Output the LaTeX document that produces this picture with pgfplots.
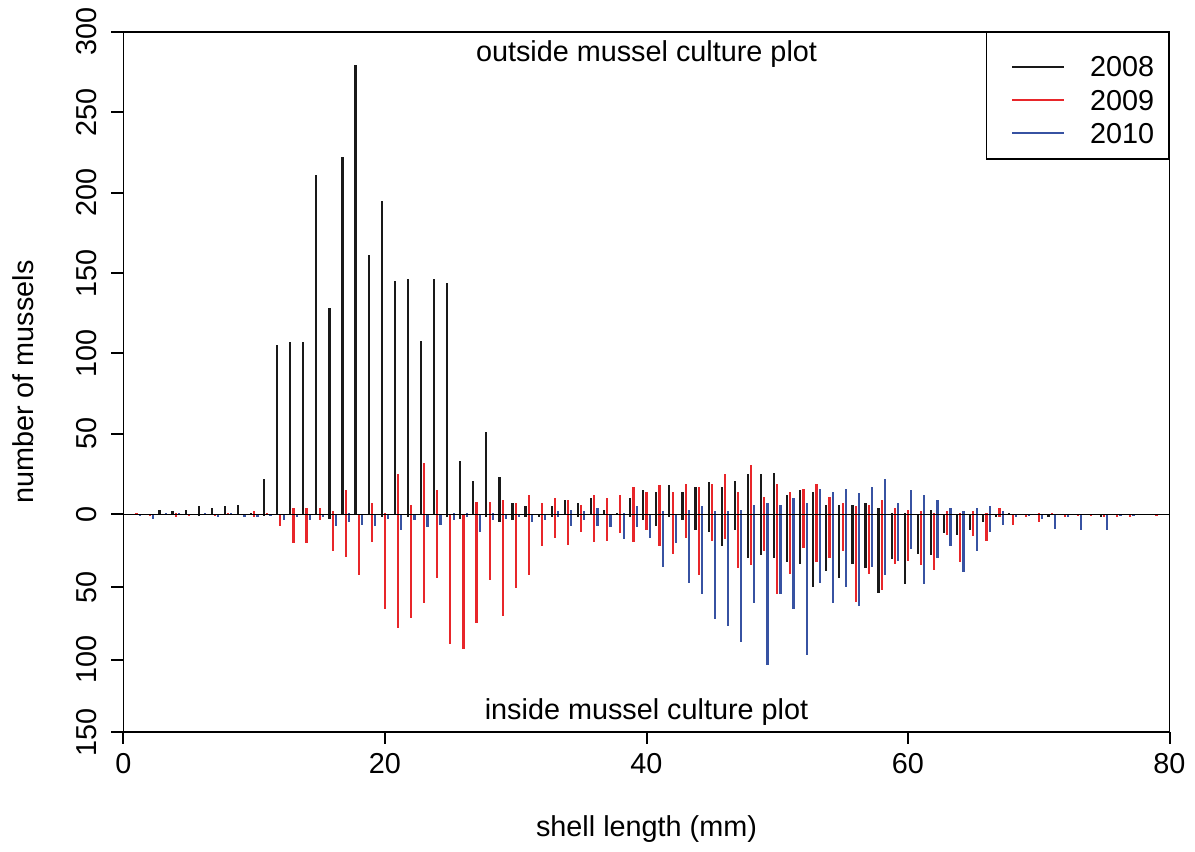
\documentclass[border=0pt]{standalone}
\usepackage{pgfplots}
\pgfplotsset{compat=1.18}
\usepackage{pgfplotstable}
\usepackage{fontspec}
\setmainfont{Liberation Sans}
\definecolor{c08}{RGB}{25,25,25}
\definecolor{c09}{RGB}{232,38,42}
\definecolor{c10}{RGB}{55,82,162}
\newcommand{\fs}{\fontsize{14.4}{17}\selectfont}

% n = shell length class (mm), out = outside culture plot, in = inside culture plot
\pgfplotstableread{
n out in
3 3 0
4 2 0
5 3 0
6 5 1
7 4 0
8 5 0
9 6 0
10 1 0
11 22 1
12 105 0
13 107 0
14 107 0
15 211 0
16 128 3
17 222 0
18 279 0
19 161 0
20 195 2
21 145 0
22 146 2
23 108 0
24 146 0
25 144 2
26 33 3
27 21 0
28 51 2
29 23 5
30 7 4
31 5 2
32 0 2
33 5 2
34 9 0
35 7 2
36 10 0
37 3 0
38 1 0
39 10 2
40 15 4
41 14 8
42 18 2
43 14 4
44 17 11
45 20 12
46 17 22
47 21 11
48 25 30
49 25 28
50 26 30
51 12 33
52 15 34
53 14 50
54 6 39
55 6 44
56 6 34
57 7 37
58 4 54
59 1 31
60 1 48
61 0 27
62 3 28
63 0 13
64 0 14
65 0 11
66 0 5
67 0 2
68 1 0
71 0 2
75 0 2
}\tblA

\pgfplotstableread{
n out in
1 1 0
2 0 1
4 1 2
5 0 1
7 0 1
8 1 0
10 2 2
11 1 0
12 0 8
13 4 20
14 4 20
15 4 4
16 2 25
17 15 29
18 0 42
19 7 19
20 1 65
21 25 78
22 6 71
23 32 61
24 15 44
25 0 89
26 0 93
27 8 75
28 8 45
29 9 70
30 7 51
31 12 42
32 7 22
33 10 16
34 9 21
35 6 12
36 12 19
37 10 18
38 12 13
39 17 19
40 14 11
41 18 22
42 14 27
43 19 16
44 17 42
45 19 18
46 25 17
47 14 37
48 31 35
49 11 25
50 19 55
51 14 41
52 16 23
53 19 33
54 11 30
55 7 25
56 5 60
57 6 41
58 9 52
59 4 34
60 3 32
61 2 35
62 1 38
63 2 14
64 1 33
65 2 15
66 1 18
67 4 2
68 0 7
69 0 2
70 1 5
71 1 0
72 0 2
73 0 1
74 0 1
75 0 2
76 0 2
77 0 2
79 0 1
}\tblB

\pgfplotstableread{
n out in
1 0 1
2 0 3
3 1 0
4 1 0
6 1 0
7 0 2
8 1 0
9 0 2
10 0 2
11 0 1
12 0 4
13 0 2
14 0 4
15 0 2
16 0 8
17 1 5
18 0 7
19 0 8
20 0 3
21 0 11
22 0 4
23 0 9
24 0 7
25 1 4
26 1 2
27 0 12
28 1 4
29 0 3
30 0 2
31 0 5
32 0 4
33 2 2
34 3 8
35 2 4
36 4 8
37 0 9
38 1 17
39 5 9
40 0 16
41 2 36
42 0 20
43 3 47
44 5 55
45 2 72
46 2 77
47 3 88
48 6 61
49 7 104
50 6 55
51 10 65
52 7 97
53 16 47
54 14 61
55 16 50
56 13 63
57 17 36
58 22 42
59 7 32
60 15 24
61 12 48
62 9 30
63 4 22
64 2 40
65 4 25
66 5 12
67 2 7
68 0 2
69 0 1
70 0 3
71 0 10
72 0 2
73 0 11
75 0 11
76 0 1
77 0 1
}\tblC

\pgfplotsset{
  spike/.style={ycomb, mark=none, line width=1.1pt,
    legend image code/.code={%
      \draw[##1, line width=1pt] (5.75pt,-2pt) -- (31.75pt,-2pt);
      \path[draw=none, fill=none] (0pt,-2pt) (44.55pt,-2pt);}},
}

\begin{document}
\fs
\begin{tikzpicture}
\draw[white, line width=0pt] (-61.75pt,-57.35pt) rectangle (535.75pt,366.15pt);
\begin{axis}[
  at={(0pt,0pt)}, anchor=south west,
  width=523pt, height=350.3pt, scale only axis,
  xmin=0, xmax=80, ymin=-135.45, ymax=300,
  axis line style={line width=0.85pt},
  xtick={0,20,40,60,80}, xticklabels={0,20,40,60,80},
  ytick={-135.45,-90.3,-45.15,0,50,100,150,200,250,300},
  yticklabels={150,100,50,0,50,100,150,200,250,300},
  tick align=outside, xtick pos=lower, ytick pos=left,
  major tick length=5.75pt,
  tick style={black, line width=1pt},
  tick label style={font=\fs},
  xticklabel style={anchor=north, inner sep=0pt, yshift=-4.75pt},
  yticklabel style={xshift=-7.25pt, rotate=90, anchor=south, inner sep=0pt},
  xlabel={shell length (mm)}, ylabel={number of mussels},
  every axis x label/.style={at={(axis description cs:0.5,0)}, anchor=base, yshift=-52pt, font=\fs},
  every axis y label/.style={at={(axis description cs:0,0.5)}, xshift=-45.1pt, rotate=90, anchor=base, font=\fs},
  legend style={at={(1,1)}, anchor=north east, draw=black, line width=0.85pt, fill=white,
    inner xsep=7.25pt, inner ysep=7.85pt, row sep=2.35pt, font=\fs,
    nodes={inner sep=0pt, text height=14.3pt, text depth=0pt}},
]
\addplot[spike, c08] table[x expr=\thisrow{n}-0.25, y=out] {\tblA};
\addlegendentry{2008}
\addplot[spike, c08, forget plot] table[x expr=\thisrow{n}-0.25, y expr=-0.903*\thisrow{in}] {\tblA};
\addplot[spike, c09] table[x=n, y=out] {\tblB};
\addlegendentry{2009}
\addplot[spike, c09, forget plot] table[x=n, y expr=-0.903*\thisrow{in}] {\tblB};
\addplot[spike, c10] table[x expr=\thisrow{n}+0.25, y=out] {\tblC};
\addlegendentry{2010}
\addplot[spike, c10, forget plot] table[x expr=\thisrow{n}+0.25, y expr=-0.903*\thisrow{in}] {\tblC};
\addplot[black, line width=0.85pt, forget plot] coordinates {(0,0) (80,0)};
\node[anchor=base, yshift=-15.15pt, font=\fs] at (rel axis cs:0.5,1) {outside mussel culture plot};
\node[anchor=base, yshift=6.5pt, font=\fs] at (rel axis cs:0.5,0) {inside mussel culture plot};
\end{axis}
% outward tick marks on the axis frame (axis box is 523pt x 350.3pt at the origin)
\foreach \tx in {0,130.75,261.5,392.25,523}{
  \draw[black, line width=1pt] (\tx pt,0pt) -- (\tx pt,-6pt);}
\foreach \ty in {0,36.32,72.64,108.96,149.19,189.41,229.63,269.85,310.08,350.3}{
  \draw[black, line width=1pt] (0pt,\ty pt) -- (-6pt,\ty pt);}
\end{tikzpicture}
\end{document}
